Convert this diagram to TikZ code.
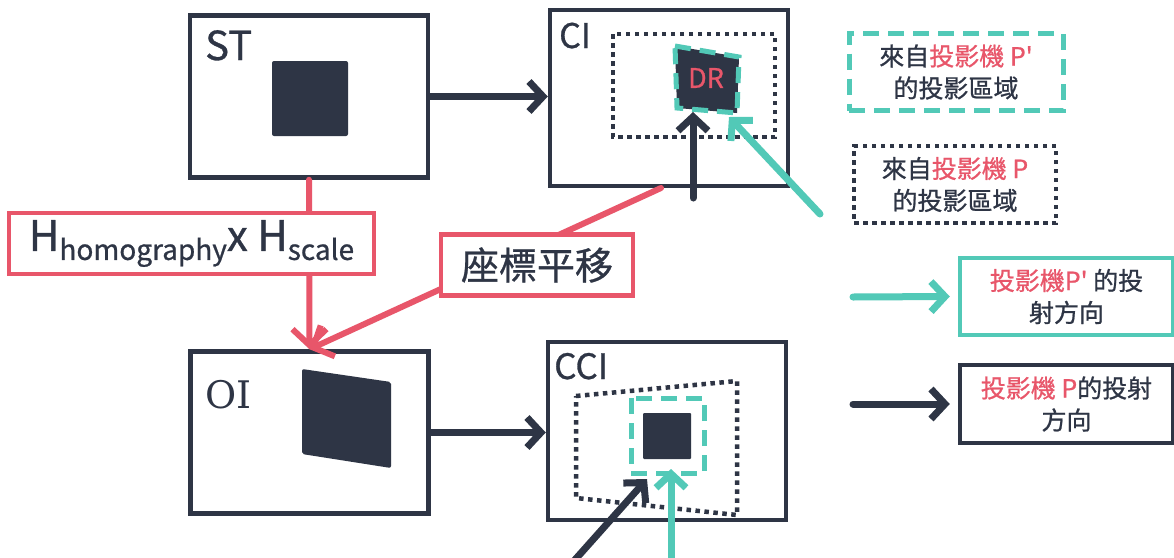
\documentclass[tikz,border=0pt]{standalone}
\usepackage{fontspec}
\setmainfont{Noto Sans CJK TC}[Ligatures=TeXOff,FakeBold=0.8]
\newfontfamily\slabfont{DejaVu Serif}
\usetikzlibrary{arrows.meta,calc}
\definecolor{navy}{HTML}{2E3545}
\definecolor{rose}{HTML}{E8566A}
\definecolor{aqua}{HTML}{52C9B7}
\tikzset{
  frame/.style={draw=navy,line width=4.5pt,minimum width=238pt,minimum height=162pt,inner sep=0pt},
  tag/.style={anchor=base west,inner sep=0pt,text=navy},
  tip/.style={-{Straight Barb[length=14pt,width=30pt]}},
  darr/.style={draw=navy,line width=7pt,line cap=round,tip},
  aarr/.style={draw=aqua,line width=7pt,line cap=round,tip},
  rarr/.style={draw=rose,line width=6pt,line cap=round,-{Straight Barb[length=16pt,width=34pt]}},
  redbox/.style={draw=rose,fill=white,line width=4.5pt,inner sep=0pt,text=navy},
  dotline/.style={draw=navy,line width=4.5pt,dash pattern=on 4.5pt off 4.5pt},
  aquadash/.style={draw=aqua,line width=5pt,dash pattern=on 16pt off 9pt},
  legend/.style={line width=4.5pt,inner sep=0pt,align=center,text=navy,
    font=\fontsize{25}{32}\selectfont,minimum height=77pt}
}
\begin{document}
\begin{tikzpicture}[x=1pt,y=-1pt]
  \useasboundingbox[fill=white] (0,0) rectangle (1174,557);
  % the four image frames
  \node[frame] (st) at (309,96.5) {};
  \node[frame,minimum height=176pt] (ci) at (669,98) {};
  \node[frame] (oi) at (309.5,432.5) {};
  \node[frame,minimum height=178pt] (cci) at (667,431) {};
  \node[tag,font=\fontsize{40}{40}\selectfont] (stname) at (205,60) {ST};
  \node[tag,font=\fontsize{34}{34}\selectfont] (ciname) at (559,48) {CI};
  \node[tag,font=\fontsize{35}{35}\selectfont] (cciname) at (554,379) {CCI};
  \node[tag,font=\fontsize{38}{38}\slabfont] (oiname) at (205,408) {OI};
  % contents
  \fill[navy,rounded corners=2pt] (272,61) rectangle (348,136);
  \fill[navy,rounded corners=2pt] (302,369) -- (391,382) -- (391,468) -- (302,454) -- cycle;
  \draw[dotline] (613,34) rectangle (775,137);
  \fill[navy] (675,46) -- (739,57) -- (737,113) -- (677,108) -- cycle;
  \draw[aquadash] (675,46) -- (739,57) -- (737,113) -- (677,108) -- cycle;
  \node[text=rose,font=\fontsize{27}{27}\selectfont] (dr) at (706,78) {DR};
  \draw[dotline] (576,396) -- (737,381) -- (737,515) -- (576,498) -- cycle;
  \draw[aquadash] (631,398) rectangle (704,473);
  \fill[navy,rounded corners=1pt] (643,413) rectangle (691,459);
  % projection rays
  \coordinate (cifoot) at (693,198);
  \coordinate (cihit) at (693,112);
  \coordinate (ciaqfoot) at (820,214);
  \coordinate (ciaqhit) at (729,117);
  \coordinate (ccifoot) at (573,562);
  \coordinate (ccihit) at (647,479);
  \coordinate (cciaqfoot) at (671,562);
  \coordinate (cciaqhit) at (671,469);
  \draw[darr] (cifoot) -- (cihit);
  \draw[aarr] (ciaqfoot) -- (ciaqhit);
  \draw[darr] (ccifoot) -- (ccihit);
  \draw[aarr] (cciaqfoot) -- (cciaqhit);
  % flow
  \draw[darr] (st.east) -- (st.east -| ci.west);
  \draw[darr] (oi.east) -- (oi.east -| cci.west);
  \coordinate (cicorner) at (661,188);
  \draw[rarr] (st.south) -- (oi.north);
  \draw[rarr] (cicorner) -- (oi.north);
  \node[redbox,minimum width=365pt,minimum height=61pt,font=\fontsize{42}{42}\selectfont] (hmat) at (191.5,243.5)
    {H\raisebox{-9pt}{\fontsize{28}{28}\selectfont homography}x H\raisebox{-9pt}{\fontsize{28}{28}\selectfont scale}};
  \node[redbox,minimum width=192pt,minimum height=61pt,font=\fontsize{38}{38}\selectfont] (shift) at (537,265) {座標平移};
  % legend
  \node[legend,aquadash,minimum width=214pt] (lgpp) at (956,72)
    {來自{\color{rose}投影機 P'}\\的投影區域};
  \node[legend,dotline,minimum width=202pt] (lgp) at (955,184.5)
    {來自{\color{rose}投影機 P}\\的投影區域};
  \node[legend,draw=aqua,minimum width=213pt] (lgray2) at (1066.5,296.5)
    {{\color{rose}投影機P'} 的投\\射方向};
  \node[legend,draw=navy,minimum width=213pt,minimum height=78pt] (lgray) at (1066.5,404)
    {{\color{rose}投影機 P}的投射\\方向};
  \coordinate (lgray2tail) at (853,297);
  \coordinate (lgraytail) at (853,404);
  \draw[aarr] (lgray2tail) -- ([xshift=-8pt]lgray2.west);
  \draw[darr] (lgraytail) -- ([xshift=-8pt]lgray.west);
\end{tikzpicture}
\end{document}
